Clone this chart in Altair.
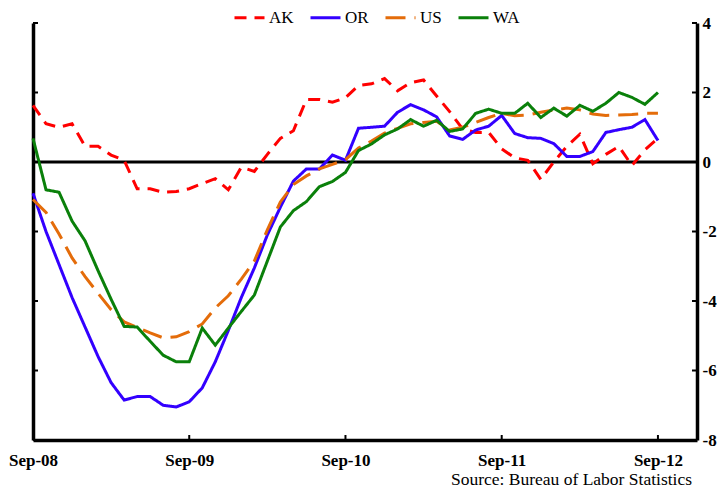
import altair as alt
import pandas as pd

series = ["AK", "OR", "US", "WA"]
colors = ["#ff0000", "#3300ff", "#e46c0a", "#0a800a"]
dashes = [[12, 8], [1, 0], [20, 9], [1, 0]]

x_label_pos = [0, 12, 24, 36, 48]
x_labels = ["Sep-08", "Sep-09", "Sep-10", "Sep-11", "Sep-12"]
y_ticks = [-8, -6, -4, -2, 0, 2, 4]

ak = [1.63, 1.1, 1.0, 1.1, 0.45, 0.45, 0.2, 0.05, -0.77, -0.77, -0.87, -0.85, -0.77,
      -0.62, -0.48, -0.8, -0.15, -0.27, 0.22, 0.68, 0.9, 1.8, 1.8, 1.72, 1.85,
      2.2, 2.25, 2.4, 2.05, 2.28, 2.36, 1.9, 1.45, 0.95, 0.85, 0.85, 0.38,
      0.12, 0.05, -0.5, 0.0, 0.45, 0.8, -0.05, 0.22, 0.45, -0.1, 0.35, 0.68]
or_ = [-0.9, -2.0, -2.95, -3.9, -4.75, -5.6, -6.35, -6.85, -6.75, -6.75, -7.0, -7.05, -6.9,
       -6.5, -5.75, -4.85, -3.9, -3.05, -2.1, -1.3, -0.55, -0.2, -0.2, 0.2, 0.05,
       0.97, 1.0, 1.03, 1.43, 1.65, 1.5, 1.3, 0.75, 0.65, 0.92, 1.03, 1.34,
       0.82, 0.7, 0.68, 0.53, 0.16, 0.16, 0.3, 0.85, 0.93, 1.0, 1.22, 0.62]
us = [-1.08, -1.45, -2.07, -2.76, -3.3, -3.78, -4.25, -4.6, -4.76, -4.92, -5.06, -5.03, -4.88,
      -4.66, -4.2, -3.85, -3.37, -2.85, -1.95, -1.15, -0.65, -0.4, -0.2, -0.07, 0.07,
      0.4, 0.6, 0.83, 0.97, 1.1, 1.14, 1.17, 0.92, 1.0, 1.14, 1.28, 1.4,
      1.33, 1.35, 1.43, 1.5, 1.55, 1.5, 1.38, 1.34, 1.35, 1.37, 1.4, 1.4]
wa = [0.68, -0.8, -0.87, -1.7, -2.27, -3.13, -3.95, -4.73, -4.75, -5.16, -5.56, -5.75, -5.75,
      -4.78, -5.27, -4.78, -4.3, -3.83, -2.85, -1.87, -1.4, -1.14, -0.71, -0.56, -0.3,
      0.33, 0.52, 0.78, 0.95, 1.22, 1.03, 1.2, 0.88, 0.95, 1.4, 1.52, 1.4,
      1.4, 1.69, 1.28, 1.55, 1.32, 1.63, 1.46, 1.69, 2.0, 1.86, 1.66, 2.0]

rows = []
for name, vals in zip(series, [ak, or_, us, wa]):
    for i, v in enumerate(vals):
        rows.append({"m": i, "v": v, "s": name})
df = pd.DataFrame(rows)

W, H = 664, 417
SERIF = "Liberation Serif"
xscale = alt.Scale(domain=[0, 51], nice=False, zero=False)
yscale = alt.Scale(domain=[-8, 4], nice=False, zero=False)

label_expr = ""
for p, l in zip(x_label_pos, x_labels):
    label_expr += f"datum.value == {p} ? '{l}' : "
label_expr += "''"

x_axis = alt.Axis(orient="bottom", values=x_label_pos, labelExpr=label_expr,
                  ticks=False, grid=False, domainWidth=3.5, domainColor="black",
                  labelFont=SERIF, labelFontSize=17, labelFontWeight="bold",
                  labelColor="black", labelPadding=12, labelOverlap=False,
                  labelFlush=False, labelBound=False)

zero = alt.Chart(pd.DataFrame({"v": [0]})).mark_rule(color="black", strokeWidth=3).encode(
    y=alt.Y("v:Q", scale=yscale, title=None,
            axis=alt.Axis(orient="right", values=y_ticks, labelExpr="'' + datum.value",
                          ticks=False, grid=False, domainWidth=3.5, domainColor="black",
                          labelFont=SERIF, labelFontSize=17, labelFontWeight="bold",
                          labelColor="black", labelAlign="left", labelPadding=5))
)

legend_common = dict(
    orient="none", legendX=200, legendY=-22, direction="horizontal", title=None,
    symbolType="stroke", symbolSize=900, symbolStrokeWidth=3, labelFont=SERIF,
    labelFontSize=17, labelColor="black", labelOffset=3, columnPadding=10,
)

lines = alt.Chart(df).mark_line(strokeWidth=3).encode(
    x=alt.X("m:Q", scale=xscale, title=None, axis=x_axis),
    y=alt.Y("v:Q", scale=yscale, title=None,
            axis=alt.Axis(orient="left", labels=False, ticks=False, grid=False,
                          domainWidth=3.5, domainColor="black")),
    color=alt.Color("s:N", scale=alt.Scale(domain=series, range=colors),
                    legend=alt.Legend(**legend_common)),
    strokeDash=alt.StrokeDash("s:N", scale=alt.Scale(domain=series, range=dashes),
                              legend=alt.Legend(**legend_common)),
)

tick_df = pd.DataFrame({"t": y_ticks})
left_ticks = alt.Chart(tick_df).mark_rule(color="black", strokeWidth=2).encode(
    y=alt.Y("t:Q", scale=yscale, axis=None), x=alt.value(0), x2=alt.value(5))
right_ticks = alt.Chart(tick_df).mark_rule(color="black", strokeWidth=2).encode(
    y=alt.Y("t:Q", scale=yscale, axis=None), x=alt.value(W - 5), x2=alt.value(W))
bottom_ticks = alt.Chart(pd.DataFrame({"t": x_label_pos[1:]})).mark_rule(
    color="black", strokeWidth=2).encode(
    x=alt.X("t:Q", scale=xscale, title=None, axis=x_axis),
    y=alt.value(H), y2=alt.value(H - 5))

chart = alt.layer(zero, lines, left_ticks, right_ticks, bottom_ticks).resolve_axis(
    y="independent"
).properties(
    width=W, height=H,
    autosize=alt.AutoSizeParams(type="none"),
    padding={"left": 25, "top": 15, "right": 20, "bottom": 50},
    title=alt.TitleParams("Source: Bureau of Labor Statistics", orient="bottom",
                          anchor="end", frame="group", font=SERIF, fontSize=17.5,
                          fontWeight="normal", color="black", offset=3, dx=-5),
).configure_view(strokeWidth=0)

chart.save("out.html", embed_options={"renderer": "svg", "actions": False})
